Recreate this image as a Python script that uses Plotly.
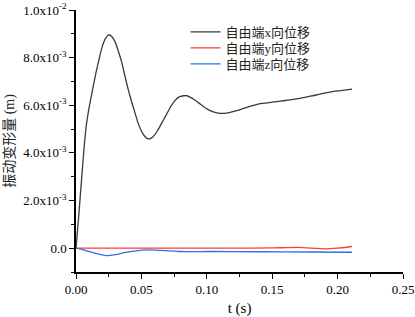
import plotly.graph_objects as go

# time (s) and displacement (m)
t_x = [0.0, 0.002, 0.004, 0.006, 0.008, 0.010, 0.0125, 0.015, 0.0175, 0.020, 0.0225, 0.025,
       0.0275, 0.030, 0.0325, 0.035, 0.0375, 0.040, 0.0425, 0.045, 0.0475, 0.050, 0.0525,
       0.055, 0.0575, 0.060, 0.0625, 0.065, 0.0675, 0.070, 0.0725, 0.075, 0.0775, 0.080,
       0.0825, 0.085, 0.0875, 0.090, 0.095, 0.100, 0.105, 0.110, 0.115, 0.120, 0.125, 0.130,
       0.135, 0.140, 0.150, 0.160, 0.170, 0.180, 0.190, 0.200, 0.211]
x_disp = [0.0, 1.3e-3, 2.7e-3, 4.1e-3, 5.2e-3, 5.9e-3, 6.6e-3, 7.3e-3, 7.9e-3, 8.45e-3, 8.8e-3, 8.96e-3,
          8.88e-3, 8.65e-3, 8.25e-3, 7.8e-3, 7.2e-3, 6.65e-3, 6.15e-3, 5.7e-3, 5.25e-3, 4.92e-3, 4.7e-3,
          4.59e-3, 4.62e-3, 4.75e-3, 4.95e-3, 5.2e-3, 5.45e-3, 5.7e-3, 5.95e-3, 6.15e-3, 6.3e-3, 6.37e-3,
          6.40e-3, 6.40e-3, 6.33e-3, 6.25e-3, 6.05e-3, 5.85e-3, 5.72e-3, 5.66e-3, 5.67e-3, 5.73e-3, 5.81e-3, 5.9e-3,
          5.99e-3, 6.06e-3, 6.13e-3, 6.2e-3, 6.28e-3, 6.39e-3, 6.51e-3, 6.6e-3, 6.68e-3]

t_y = [0.0, 0.03, 0.06, 0.09, 0.12, 0.15, 0.17, 0.19, 0.20, 0.211]
y_disp = [0.0, 0.0, 0.0, 0.0, 0.0, 0.01e-3, 0.03e-3, -0.03e-3, 0.0, 0.07e-3]

t_z = [0.0, 0.0076, 0.0153, 0.023, 0.030, 0.038, 0.0535, 0.069, 0.079, 0.102, 0.14, 0.18, 0.211]
z_disp = [0.0, -0.10e-3, -0.22e-3, -0.31e-3, -0.27e-3, -0.18e-3, -0.07e-3, -0.10e-3, -0.14e-3,
          -0.14e-3, -0.15e-3, -0.16e-3, -0.17e-3]

names = ["自由端x向位移", "自由端y向位移", "自由端z向位移"]
colors = ["#3a3a3a", "#ff3b3b", "#2f6fe4"]

y_tickvals = [0.0, 2e-3, 4e-3, 6e-3, 8e-3, 1e-2]
y_ticktext = ["0.0", "2.0x10<sup>-3</sup>", "4.0x10<sup>-3</sup>", "6.0x10<sup>-3</sup>",
              "8.0x10<sup>-3</sup>", "1.0x10<sup>-2</sup>"]
x_tickvals = [0.0, 0.05, 0.10, 0.15, 0.20, 0.25]
x_ticktext = ["0.00", "0.05", "0.10", "0.15", "0.20", "0.25"]

serif = "'Liberation Serif', 'Times New Roman', 'Noto Sans CJK SC', serif"

fig = go.Figure()
legend_ids = ["legend", "legend2", "legend3"]
for tt, vv, nm, c, lg in [(t_x, x_disp, names[0], colors[0], legend_ids[0]),
                          (t_y, y_disp, names[1], colors[1], legend_ids[1]),
                          (t_z, z_disp, names[2], colors[2], legend_ids[2])]:
    fig.add_trace(go.Scatter(x=tt, y=vv, name=nm, mode="lines", legend=lg,
                             line=dict(color=c, width=1.3, shape="spline", smoothing=0.5)))

axis_common = dict(showline=True, linecolor="black", linewidth=1.5, ticks="outside",
                   tickcolor="black", tickwidth=1.3, ticklen=5, showgrid=False, zeroline=False,
                   mirror=False, automargin=False, ticklabeloverflow="allow",
                   tickfont=dict(family=serif, size=13, color="black"))

fig.update_xaxes(range=[0, 0.25], tickvals=x_tickvals, ticktext=x_ticktext,
                 minor=dict(ticks="outside", tickvals=[0.025, 0.075, 0.125, 0.175, 0.225],
                            ticklen=3, tickcolor="black", tickwidth=1.2),
                 title=dict(text="t (s)", font=dict(family=serif, size=15, color="black"), standoff=10),
                 **axis_common)
fig.update_yaxes(range=[-1e-3, 1e-2], tickvals=y_tickvals, ticktext=y_ticktext,
                 minor=dict(ticks="outside", tickvals=[-1e-3, 1e-3, 3e-3, 5e-3, 7e-3, 9e-3],
                            ticklen=3, tickcolor="black", tickwidth=1.2),
                 title=dict(text="振动变形量 (m)", font=dict(family=serif, size=14, color="#222"), standoff=5),
                 **axis_common)

leg_style = dict(xanchor="left", yanchor="middle", bgcolor="rgba(0,0,0,0)", borderwidth=0,
                 font=dict(family=serif, size=13, color="#222"), itemwidth=30)

fig.update_layout(
    width=415, height=317,
    margin=dict(l=76, r=12, t=10, b=45),
    paper_bgcolor="white", plot_bgcolor="white",
    showlegend=True,
    legend=dict(x=0.335, y=0.916, **leg_style),
    legend2=dict(x=0.335, y=0.855, **leg_style),
    legend3=dict(x=0.335, y=0.794, **leg_style),
)

# remove the browser's default 8px body margin so the figure fills the window exactly
fig.write_html("out.html", config={"displayModeBar": False},
               post_script="document.body.style.margin='0';")
